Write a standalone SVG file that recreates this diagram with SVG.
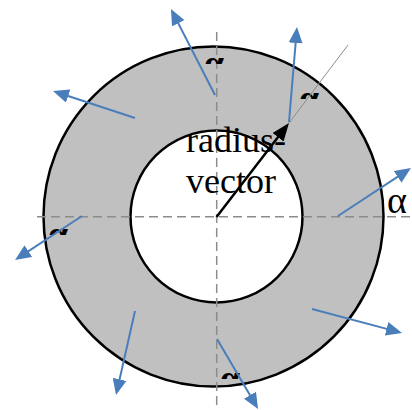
<svg xmlns="http://www.w3.org/2000/svg" width="412" height="410" viewBox="0 0 412 410">
<style>
.ring{fill:#c0c0c0;stroke:#000;stroke-width:2.5}
.hole{fill:#fff;stroke:#000;stroke-width:2.5}
.axis{stroke:#8c8c8c;stroke-width:1.5;stroke-dasharray:9 5;fill:none}
.blue{stroke:#4a7ebb;stroke-width:2;fill:none;marker-end:url(#bh)}
.serif{font-family:"Liberation Serif","Times New Roman",serif;fill:#000}
</style>
<defs>
<marker id="bh" markerUnits="userSpaceOnUse" markerWidth="16" markerHeight="14" refX="8" refY="7" orient="auto" viewBox="0 0 16 14">
<path d="M0,0 L16,7 L0,14 z" fill="#4a7ebb"/>
</marker>
<marker id="kh" markerUnits="userSpaceOnUse" markerWidth="18" markerHeight="14" refX="9" refY="7" orient="auto" viewBox="0 0 18 14">
<path d="M0,0 L18,7 L0,14 z" fill="#000"/>
</marker>
<clipPath id="c1"><rect x="200" y="56" width="30" height="8"/></clipPath>
<clipPath id="c2"><rect x="295" y="91" width="30" height="8"/></clipPath>
<clipPath id="c3"><rect x="44" y="227" width="30" height="8"/></clipPath>
<clipPath id="c4"><rect x="217" y="371" width="30" height="8"/></clipPath>
</defs>
<g id="ring">
<circle class="ring" cx="213.5" cy="216.5" r="170"/>
<circle class="hole" cx="216.5" cy="216.5" r="86"/>
</g>
<g id="axes">
<line class="axis" x1="37" y1="216.7" x2="412" y2="216.7"/>
<line class="axis" x1="216.7" y1="32" x2="216.7" y2="410"/>
</g>
<g id="marks" class="serif" font-size="36" font-weight="bold">
<text x="204" y="75" clip-path="url(#c1)">α</text>
<text x="299" y="110" clip-path="url(#c2)">α</text>
<text x="48" y="246" clip-path="url(#c3)">α</text>
<text x="220" y="390" clip-path="url(#c4)">α</text>
</g>
<g id="label" class="serif" font-size="36">
<text x="186" y="152">radius-</text>
<text x="186" y="193">vector</text>
</g>
<g id="alpha-label" class="serif" font-size="38">
<text x="387" y="213">α</text>
</g>
<g id="connectors">
<line x1="289" y1="123" x2="348" y2="45" stroke="#8c8c8c" stroke-width="1"/>
<line x1="216.5" y1="217" x2="283.5" y2="130.1" stroke="#000" stroke-width="2.5" marker-end="url(#kh)"/>
<line class="blue" x1="215" y1="95" x2="174.6" y2="16.1"/>
<line class="blue" x1="289" y1="122" x2="296.3" y2="35"/>
<line class="blue" x1="135" y1="118" x2="60.6" y2="93.5"/>
<line class="blue" x1="82" y1="216" x2="21.7" y2="255.6"/>
<line class="blue" x1="338" y1="216" x2="404.3" y2="172.4"/>
<line class="blue" x1="135" y1="311" x2="117.8" y2="387.2"/>
<line class="blue" x1="217" y1="339" x2="254" y2="402.1"/>
<line class="blue" x1="312" y1="309" x2="394.3" y2="330.9"/>
</g>
</svg>
